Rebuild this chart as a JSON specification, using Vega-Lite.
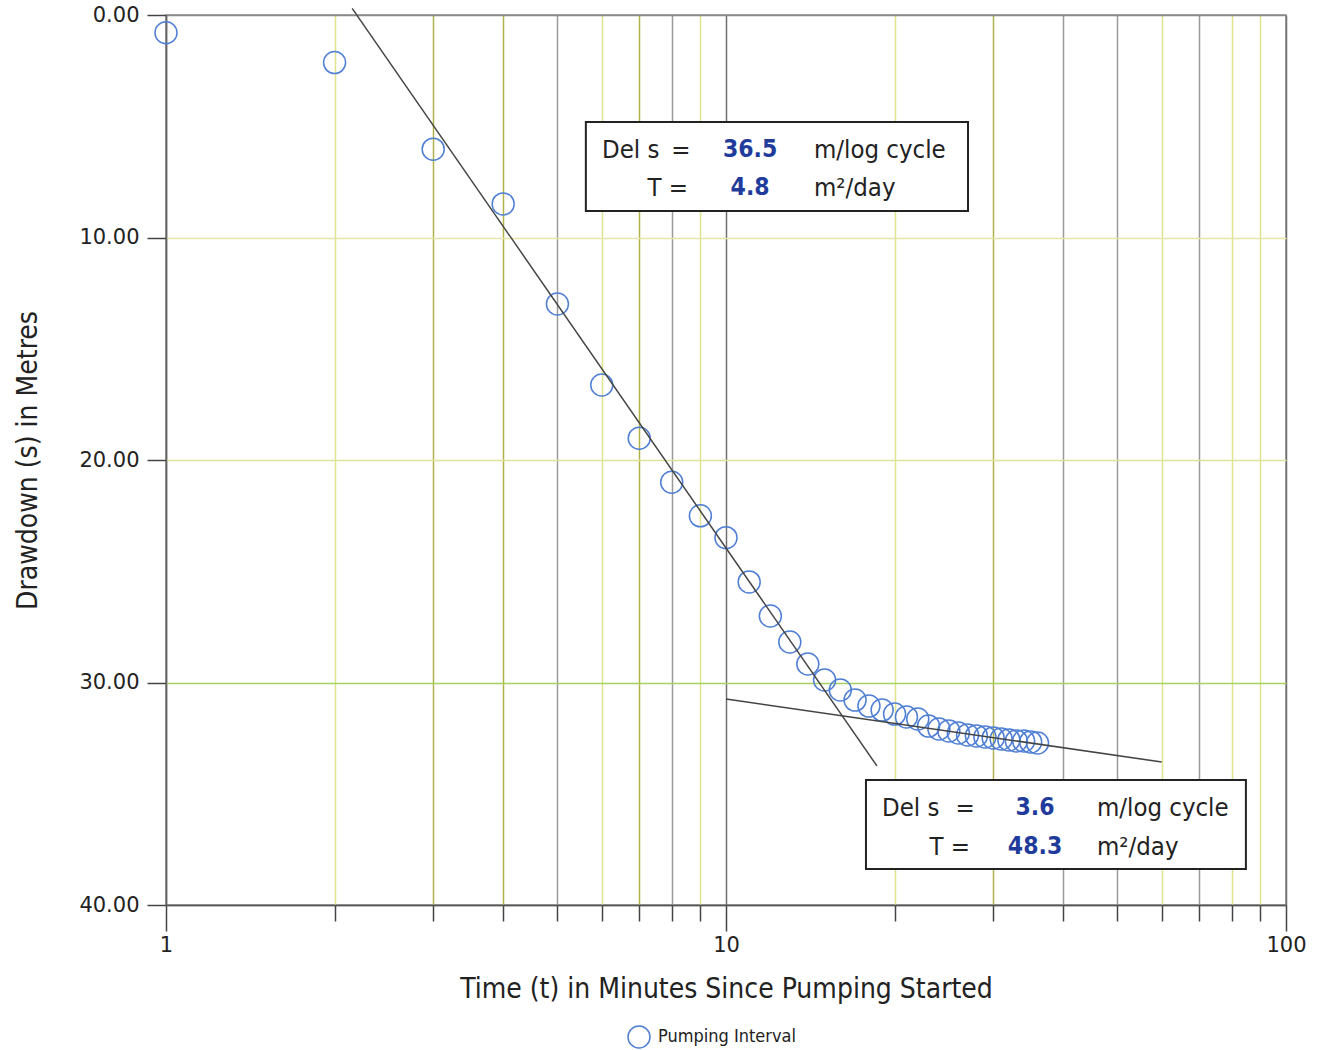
{
  "$schema": "https://vega.github.io/schema/vega-lite/v6.json",
  "width": 1120,
  "height": 890,
  "autosize": {"type": "none"},
  "padding": {"left": 166, "top": 15, "right": 38, "bottom": 145},
  "background": "white",
  "config": {
    "view": {"stroke": "#8a8a8a", "strokeWidth": 1.5},
    "font": "DejaVu Sans Condensed"
  },
  "layer": [
    {
      "data": {"values": [
        {"t": 1, "s": 0.80, "series": "Pumping Interval"},
        {"t": 2, "s": 2.14, "series": "Pumping Interval"},
        {"t": 3, "s": 6.03, "series": "Pumping Interval"},
        {"t": 4, "s": 8.49, "series": "Pumping Interval"},
        {"t": 5, "s": 12.99, "series": "Pumping Interval"},
        {"t": 6, "s": 16.63, "series": "Pumping Interval"},
        {"t": 7, "s": 19.02, "series": "Pumping Interval"},
        {"t": 8, "s": 21.0, "series": "Pumping Interval"},
        {"t": 9, "s": 22.51, "series": "Pumping Interval"},
        {"t": 10, "s": 23.49, "series": "Pumping Interval"},
        {"t": 11, "s": 25.48, "series": "Pumping Interval"},
        {"t": 12, "s": 27.01, "series": "Pumping Interval"},
        {"t": 13, "s": 28.18, "series": "Pumping Interval"},
        {"t": 14, "s": 29.17, "series": "Pumping Interval"},
        {"t": 15, "s": 29.89, "series": "Pumping Interval"},
        {"t": 16, "s": 30.34, "series": "Pumping Interval"},
        {"t": 17, "s": 30.79, "series": "Pumping Interval"},
        {"t": 18, "s": 31.06, "series": "Pumping Interval"},
        {"t": 19, "s": 31.24, "series": "Pumping Interval"},
        {"t": 20, "s": 31.42, "series": "Pumping Interval"},
        {"t": 21, "s": 31.55, "series": "Pumping Interval"},
        {"t": 22, "s": 31.64, "series": "Pumping Interval"},
        {"t": 23, "s": 31.96, "series": "Pumping Interval"},
        {"t": 24, "s": 32.09, "series": "Pumping Interval"},
        {"t": 25, "s": 32.18, "series": "Pumping Interval"},
        {"t": 26, "s": 32.27, "series": "Pumping Interval"},
        {"t": 27, "s": 32.36, "series": "Pumping Interval"},
        {"t": 28, "s": 32.40, "series": "Pumping Interval"},
        {"t": 29, "s": 32.45, "series": "Pumping Interval"},
        {"t": 30, "s": 32.49, "series": "Pumping Interval"},
        {"t": 31, "s": 32.54, "series": "Pumping Interval"},
        {"t": 32, "s": 32.58, "series": "Pumping Interval"},
        {"t": 33, "s": 32.63, "series": "Pumping Interval"},
        {"t": 34, "s": 32.63, "series": "Pumping Interval"},
        {"t": 35, "s": 32.67, "series": "Pumping Interval"},
        {"t": 36, "s": 32.72, "series": "Pumping Interval"}
      ]},
      "mark": {"type": "point", "shape": "circle", "filled": false, "size": 484, "strokeWidth": 1.5, "opacity": 1},
      "encoding": {
        "x": {
          "field": "t", "type": "quantitative",
          "scale": {"type": "log", "domain": [1, 100], "nice": false},
          "axis": {
            "title": "Time (t) in Minutes Since Pumping Started",
            "values": [1, 2, 3, 4, 5, 6, 7, 8, 9, 10, 20, 30, 40, 50, 60, 70, 80, 90, 100],
            "format": "d",
            "labelExpr": "datum.value == 1 || datum.value == 10 || datum.value == 100 ? datum.label : ''",
            "labelOverlap": false,
            "labelFlush": false,
            "labelFont": "DejaVu Sans",
            "labelFontSize": 21,
            "labelColor": "#222222",
            "labelPadding": 3,
            "tickColor": "#444444",
            "tickWidth": 1.5,
            "tickSize": {"condition": {"test": "datum.value == 1 || datum.value == 10 || datum.value == 100", "value": 26}, "value": 16},
            "domainColor": "#555555",
            "domainWidth": 1.5,
            "grid": true,
            "gridWidth": 1.5,
            "gridOpacity": 1,
            "gridColor": {
              "condition": [
                {"test": "datum.value == 1 || datum.value == 10 || datum.value == 100", "value": "#707070"},
                {"test": "indexof([5, 8, 40, 50, 70], datum.value) >= 0", "value": "#9a9a9a"},
                {"test": "indexof([3, 4, 7, 30], datum.value) >= 0", "value": "#b0b248"}
              ],
              "value": "#e0e38e"
            },
            "titleFont": "DejaVu Sans Condensed",
            "titleFontSize": 28,
            "titleFontWeight": "normal",
            "titleColor": "#222222",
            "titlePadding": 20
          }
        },
        "y": {
          "field": "s", "type": "quantitative",
          "scale": {"domain": [0, 40], "reverse": true, "nice": false, "zero": false},
          "axis": {
            "title": "Drawdown (s) in Metres",
            "values": [0, 10, 20, 30, 40],
            "format": ".2f",
            "labelFont": "DejaVu Sans",
            "labelFontSize": 21,
            "labelColor": "#222222",
            "labelPadding": 8,
            "tickSize": 19,
            "tickColor": "#444444",
            "tickWidth": 1.5,
            "domainColor": "#666666",
            "domainWidth": 1.5,
            "grid": true,
            "gridWidth": 1.5,
            "gridOpacity": 1,
            "gridColor": {
              "condition": [
                {"test": "datum.value == 10", "value": "#e3e6a8"},
                {"test": "datum.value == 20", "value": "#dde39c"},
                {"test": "datum.value == 30", "value": "#a6d160"}
              ],
              "value": "#8a8a8a"
            },
            "titleFont": "DejaVu Sans Condensed",
            "titleFontSize": 28,
            "titleFontWeight": "normal",
            "titleColor": "#222222",
            "titlePadding": 36
          }
        },
        "color": {
          "field": "series", "type": "nominal",
          "scale": {"range": ["#4f7fd4"]},
          "legend": {
            "orient": "none",
            "legendX": 461,
            "legendY": 1010,
            "title": null,
            "padding": 0,
            "symbolType": "circle",
            "symbolSize": 484,
            "symbolStrokeWidth": 1.5,
            "labelFont": "DejaVu Sans Condensed",
            "labelFontSize": 18,
            "labelColor": "#222222",
            "labelOffset": 7
          }
        }
      }
    },
    {
      "data": {"values": [
        {"t": 2.15, "s": -0.3, "line": "early"},
        {"t": 18.6, "s": 33.75, "line": "early"},
        {"t": 10, "s": 30.74, "line": "late"},
        {"t": 60, "s": 33.57, "line": "late"}
      ]},
      "mark": {"type": "line", "color": "#444444", "strokeWidth": 1.5, "clip": false},
      "encoding": {
        "x": {"field": "t", "type": "quantitative", "scale": {"type": "log", "domain": [1, 100], "nice": false}},
        "y": {"field": "s", "type": "quantitative", "scale": {"domain": [0, 40], "reverse": true, "nice": false, "zero": false}},
        "detail": {"field": "line", "type": "nominal"}
      }
    },
    {
      "data": {"values": [
        {"t": 5.62, "t2": 27.05, "s": 4.81, "s2": 8.81},
        {"t": 17.78, "t2": 84.8, "s": 34.38, "s2": 38.38}
      ]},
      "mark": {"type": "rect", "fill": "white", "stroke": "#222222", "strokeWidth": 2},
      "encoding": {
        "x": {"field": "t", "type": "quantitative", "scale": {"type": "log", "domain": [1, 100], "nice": false}},
        "x2": {"field": "t2"},
        "y": {"field": "s", "type": "quantitative", "scale": {"domain": [0, 40], "reverse": true, "nice": false, "zero": false}},
        "y2": {"field": "s2"}
      }
    },
    {
      "data": {"values": [
        {"t": 6.006, "s": 6.07, "txt": "Del s"},
        {"t": 14.36, "s": 6.07, "txt": "m/log cycle"},
        {"t": 14.36, "s": 7.78, "txt": "m²/day"},
        {"t": 18.99, "s": 35.64, "txt": "Del s"},
        {"t": 45.97, "s": 35.64, "txt": "m/log cycle"},
        {"t": 45.97, "s": 37.39, "txt": "m²/day"}
      ]},
      "mark": {"type": "text", "align": "left", "baseline": "middle", "font": "DejaVu Sans Condensed", "fontSize": 25.5, "color": "#222222"},
      "encoding": {
        "x": {"field": "t", "type": "quantitative", "scale": {"type": "log", "domain": [1, 100], "nice": false}},
        "y": {"field": "s", "type": "quantitative", "scale": {"domain": [0, 40], "reverse": true, "nice": false, "zero": false}},
        "text": {"field": "txt"}
      }
    },
    {
      "data": {"values": [
        {"t": 8.31, "s": 6.07, "txt": "="},
        {"t": 26.72, "s": 35.64, "txt": "="}
      ]},
      "mark": {"type": "text", "align": "center", "baseline": "middle", "font": "DejaVu Sans Condensed", "fontSize": 25.5, "color": "#222222"},
      "encoding": {
        "x": {"field": "t", "type": "quantitative", "scale": {"type": "log", "domain": [1, 100], "nice": false}},
        "y": {"field": "s", "type": "quantitative", "scale": {"domain": [0, 40], "reverse": true, "nice": false, "zero": false}},
        "text": {"field": "txt"}
      }
    },
    {
      "data": {"values": [
        {"t": 8.555, "s": 7.78, "txt": "T ="},
        {"t": 27.28, "s": 37.39, "txt": "T ="}
      ]},
      "mark": {"type": "text", "align": "right", "baseline": "middle", "font": "DejaVu Sans Condensed", "fontSize": 25.5, "color": "#222222"},
      "encoding": {
        "x": {"field": "t", "type": "quantitative", "scale": {"type": "log", "domain": [1, 100], "nice": false}},
        "y": {"field": "s", "type": "quantitative", "scale": {"domain": [0, 40], "reverse": true, "nice": false, "zero": false}},
        "text": {"field": "txt"}
      }
    },
    {
      "data": {"values": [
        {"t": 11.04, "s": 6.07, "txt": "36.5"},
        {"t": 11.04, "s": 7.78, "txt": "4.8"},
        {"t": 35.63, "s": 35.64, "txt": "3.6"},
        {"t": 35.63, "s": 37.39, "txt": "48.3"}
      ]},
      "mark": {"type": "text", "align": "center", "baseline": "middle", "font": "DejaVu Sans Condensed", "fontSize": 24.5, "fontWeight": "bold", "color": "#1f3c9c"},
      "encoding": {
        "x": {"field": "t", "type": "quantitative", "scale": {"type": "log", "domain": [1, 100], "nice": false}},
        "y": {"field": "s", "type": "quantitative", "scale": {"domain": [0, 40], "reverse": true, "nice": false, "zero": false}},
        "text": {"field": "txt"}
      }
    }
  ]
}
